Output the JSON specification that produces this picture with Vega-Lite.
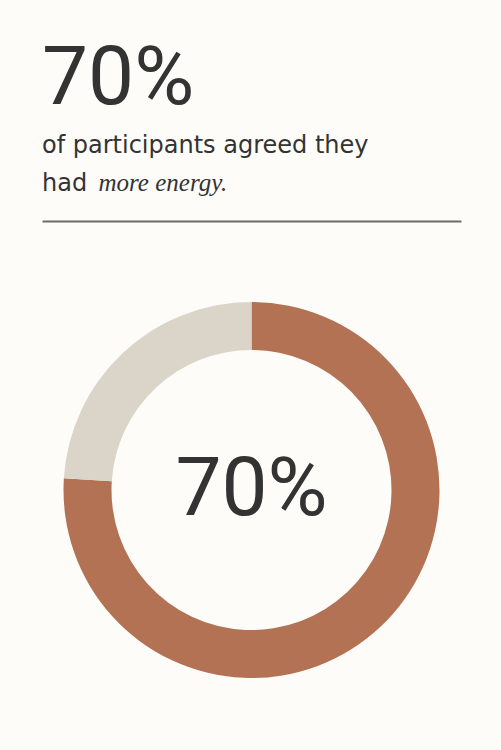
{
  "$schema": "https://vega.github.io/schema/vega-lite/v6.json",
  "width": 419,
  "height": 520,
  "autosize": {"type": "none"},
  "padding": {"left": 42, "right": 40, "top": 230, "bottom": 0},
  "background": "#fdfcf8",
  "config": {"view": {"stroke": null}},
  "title": {
    "text": "70%",
    "subtitle": ["of participants agreed they", "had"],
    "anchor": "start",
    "frame": "group",
    "font": "Roboto",
    "fontSize": 82,
    "fontWeight": "normal",
    "color": "#333333",
    "subtitleFont": "DejaVu Sans",
    "subtitleFontSize": 24,
    "subtitleColor": "#333333",
    "subtitleLineHeight": 38,
    "subtitlePadding": 13,
    "offset": -27
  },
  "data": {
    "values": [
      {"response": "Agreed", "share": 0.76, "label": "70%", "order": 1},
      {"response": "Did not agree", "share": 0.24, "label": "30%", "order": 2}
    ]
  },
  "encoding": {
    "x": {
      "datum": 0.5,
      "type": "quantitative",
      "scale": {"domain": [0, 1]},
      "axis": {
        "orient": "top",
        "offset": 9,
        "labels": false,
        "ticks": false,
        "grid": false,
        "domainColor": "#6b6b6b",
        "domainWidth": 2,
        "title": "more energy.",
        "titleFont": "Liberation Serif",
        "titleFontStyle": "italic",
        "titleFontWeight": "normal",
        "titleFontSize": 25,
        "titleColor": "#333333",
        "titleAlign": "left",
        "titleBaseline": "alphabetic",
        "titleX": 56,
        "titleY": -31
      }
    },
    "y": {"datum": 0.5, "type": "quantitative", "scale": {"domain": [0, 1]}, "axis": null}
  },
  "layer": [
    {
      "mark": {"type": "arc", "innerRadius": 140, "outerRadius": 188},
      "encoding": {
        "theta": {"field": "share", "type": "quantitative", "stack": true},
        "order": {"field": "order", "type": "quantitative"},
        "color": {
          "field": "response",
          "type": "nominal",
          "scale": {"domain": ["Agreed", "Did not agree"], "range": ["#b37254", "#dbd4c9"]},
          "legend": null
        }
      }
    },
    {
      "transform": [{"filter": "datum.response === 'Agreed'"}],
      "mark": {"type": "text", "font": "Roboto", "fontSize": 82, "color": "#333333", "baseline": "middle"},
      "encoding": {"text": {"field": "label", "type": "nominal"}}
    }
  ]
}
